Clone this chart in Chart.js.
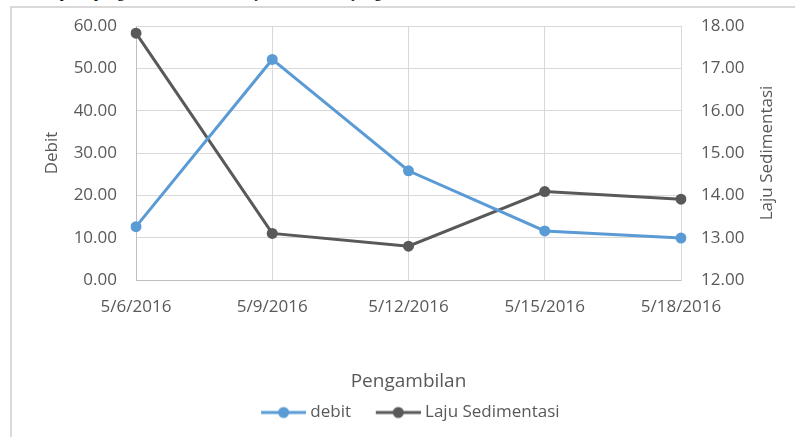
<!DOCTYPE html>
<html>
<head>
<meta charset="utf-8">
<script src="https://cdn.jsdelivr.net/npm/chart.js@4/dist/chart.umd.min.js"></script>
<style>
  html, body { margin: 0; padding: 0; background: #fff; overflow: hidden; }
  body { width: 795px; height: 437px; position: relative; }
  #caption { position: absolute; left: 14px; top: -16px; font: 16px "Liberation Serif", serif; color: #000; white-space: nowrap; line-height: 16px; }
  #frame { position: absolute; left: 10px; top: 6px; width: 820px; height: 460px; border-left: 2px solid #d9d9d9; border-top: 2px solid #d9d9d9; }
  #wrap { position: absolute; left: 0; top: 0; width: 795px; height: 437px; }
</style>
</head>
<body>
<div id="caption">Grafik pada pengambilan debit dan laju sedimentasi yang</div>
<div id="frame"></div>
<div id="wrap"><canvas id="chart"></canvas></div>
<script>
// data
const tanggal = ['5/6/2016', '5/9/2016', '5/12/2016', '5/15/2016', '5/18/2016']
const debit = [12.6, 52.1, 25.8, 11.6, 9.9]
const lajuSedimentasi = [17.83, 13.10, 12.80, 14.09, 13.91]

const biru = '#5b9bd5'
const abu = '#595959'
const teks = '#595959'
const grid = '#d9d9d9'

// penanda legend: garis + titik
function legendMarker(color) {
    const c = document.createElement('canvas')
    c.width = 63
    c.height = 14
    const g = c.getContext('2d')
    g.strokeStyle = color
    g.lineWidth = 3
    g.beginPath()
    g.moveTo(18, 7)
    g.lineTo(63, 7)
    g.stroke()
    g.fillStyle = color
    g.beginPath()
    g.arc(40.5, 7, 5.5, 0, Math.PI * 2)
    g.fill()
    return c
}

// judul sumbu kanan, diputar seperti di Excel
const rightTitle = {
    id: 'rightTitle',
    afterDraw(chart) {
        const ctx = chart.ctx
        const area = chart.chartArea
        ctx.save()
        ctx.translate(767, (area.top + area.bottom) / 2)
        ctx.rotate(-Math.PI / 2)
        ctx.font = '17px "Open Sans"'
        ctx.fillStyle = teks
        ctx.textAlign = 'center'
        ctx.textBaseline = 'middle'
        ctx.fillText('Laju Sedimentasi', 0, 0)
        ctx.restore()
    }
}

const data = {
    labels: tanggal,
    datasets: [{
        label: 'debit',
        data: debit,
        borderColor: biru,
        backgroundColor: biru,
        borderWidth: 3,
        pointRadius: 5.5,
        pointBorderWidth: 0,
        pointHoverRadius: 5.5,
        yAxisID: 'y'
    }, {
        label: 'Laju Sedimentasi',
        data: lajuSedimentasi,
        borderColor: abu,
        backgroundColor: abu,
        borderWidth: 3,
        pointRadius: 5.5,
        pointBorderWidth: 0,
        pointHoverRadius: 5.5,
        yAxisID: 'y1'
    }]
}

const config = {
    type: 'line',
    data: data,
    plugins: [rightTitle],
    options: {
        responsive: false,
        animation: false,
        layout: { padding: { top: 26, left: 12, right: 0, bottom: 6 } },
        plugins: {
            tooltip: { enabled: false },
            legend: {
                display: true,
                position: 'bottom',
                labels: {
                    usePointStyle: true,
                    pointStyleWidth: 54.5,
                    boxHeight: 17,
                    padding: 11,
                    color: teks,
                    font: { family: 'Open Sans', size: 17 },
                    generateLabels(chart) {
                        return chart.data.datasets.map((ds, i) => ({
                            text: ds.label,
                            pointStyle: legendMarker(ds.borderColor),
                            fillStyle: ds.borderColor,
                            strokeStyle: ds.borderColor,
                            lineWidth: 0,
                            fontColor: teks,
                            datasetIndex: i
                        }))
                    }
                }
            }
        },
        scales: {
            x: {
                offset: false,
                grid: { color: grid, drawTicks: false },
                border: { color: '#bfbfbf' },
                ticks: { color: teks, padding: 17, maxRotation: 0, font: { family: 'Open Sans', size: 17 } },
                title: { display: true, text: 'Pengambilan', color: teks, padding: 0, font: { family: 'Open Sans', size: 19 } },
                afterFit(s) { s.height = 113 }
            },
            y: {
                position: 'left',
                min: 0,
                max: 60,
                grid: { color: grid, drawTicks: true, tickLength: 5, tickColor: 'rgba(0,0,0,0)' },
                border: { color: '#bfbfbf' },
                ticks: { stepSize: 10, color: teks, padding: 14, font: { family: 'Open Sans', size: 17 },
                    callback: v => v.toFixed(2) },
                title: { display: true, text: 'Debit', color: teks, padding: { top: 30, bottom: 0 }, font: { family: 'Open Sans', size: 17 } },
                afterFit(s) { s.width = 124 }
            },
            y1: {
                position: 'right',
                min: 12,
                max: 18,
                grid: { drawOnChartArea: false, drawTicks: true, tickLength: 5, tickColor: 'rgba(0,0,0,0)' },
                border: { color: grid },
                ticks: { stepSize: 1, color: teks, padding: 15, font: { family: 'Open Sans', size: 17 },
                    callback: v => v.toFixed(2) },
                afterFit(s) { s.width = 114 }
            }
        }
    }
}

const cv = document.getElementById('chart')
cv.width = 795
cv.height = 437
const grafik = new Chart(cv, config)
</script>
</body>
</html>
